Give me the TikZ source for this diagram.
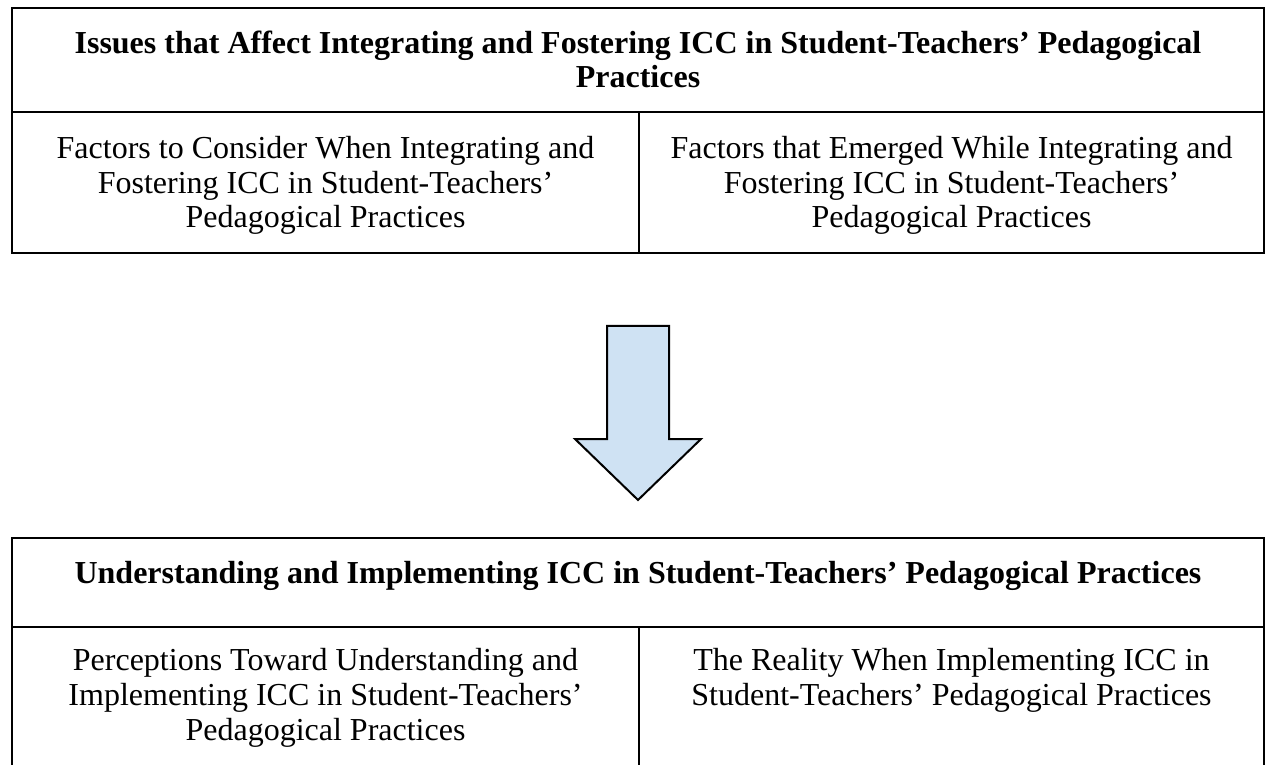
\documentclass[tikz,border=0pt]{standalone}
\usepackage{fontspec}
\setmainfont{Liberation Serif}
\definecolor{arrowblue}{RGB}{207,226,243}

\begin{document}
\begin{tikzpicture}[x=0.375pt,y=-0.375pt,
  cell/.style={anchor=base,align=center,inner sep=0pt,font=\fontsize{12}{13.1}\selectfont},
  head/.style={cell,font=\fontsize{12}{13.1}\selectfont\bfseries},
  rule/.style={line width=1.1pt}]
\useasboundingbox (0,0) rectangle (1265,765);

% Upper table
\draw[rule] (12,8) rectangle (1264,253);
\draw[rule] (12,112) -- (1264,112);
\draw[rule] (639,112) -- (639,253);
% nodes sit on the baseline of their last line
\node[head] (issues) at (638,88) {Issues that Affect Integrating and Fostering ICC in Student-Teachers’ Pedagogical\\Practices};
\node[cell] (consider) at (325.5,228) {Factors to Consider When Integrating and\\Fostering ICC in Student-Teachers’\\Pedagogical Practices};
\node[cell] (emerged) at (951.5,228) {Factors that Emerged While Integrating and\\Fostering ICC in Student-Teachers’\\Pedagogical Practices};

% Block arrow
\draw[line width=0.75pt,fill=arrowblue] (607,326) -- (669,326) -- (669,439) -- (701,439)
  -- (638,500) -- (575,439) -- (607,439) -- cycle;

% Lower table (runs off the bottom edge)
\draw[rule] (12,765) -- (12,538) -- (1264,538) -- (1264,765);
\draw[rule] (12,627) -- (1264,627);
\draw[rule] (639,627) -- (639,765);
\node[head] (understanding) at (638,583) {Understanding and Implementing ICC in Student-Teachers’ Pedagogical Practices};
\node[cell] (perceptions) at (325.5,740) {Perceptions Toward Understanding and\\Implementing ICC in Student-Teachers’\\Pedagogical Practices};
\node[cell] (reality) at (951.5,705) {The Reality When Implementing ICC in\\Student-Teachers’ Pedagogical Practices};
\end{tikzpicture}
\end{document}
